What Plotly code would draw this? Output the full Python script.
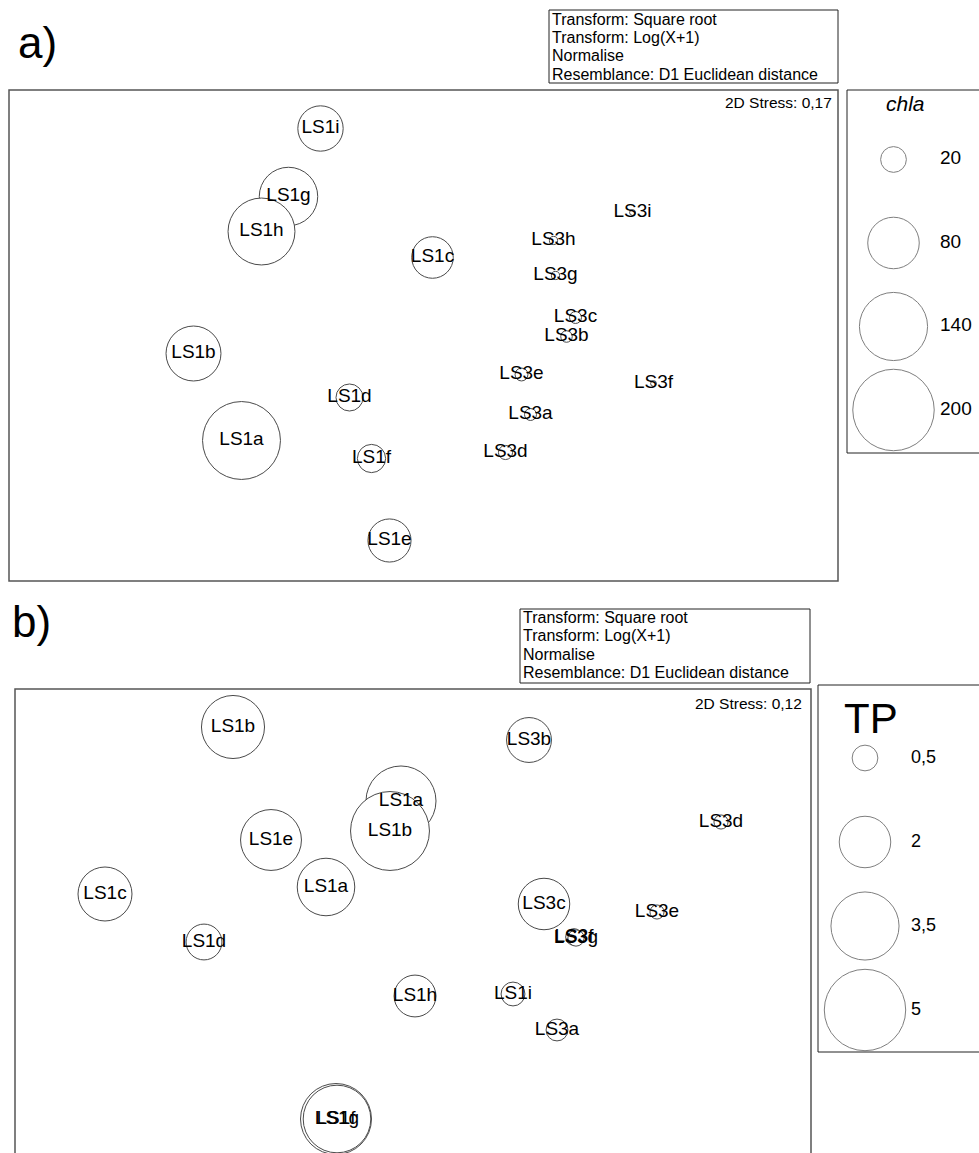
import plotly.graph_objects as go

W, H = 979, 1153
FONT = "Liberation Sans, Arial, Helvetica, sans-serif"
RING = "#4a4a4a"

# ---- panel a: nMDS ordination of sites, bubbles scaled by chla ----
a_names = ["LS1a", "LS1b", "LS1c", "LS1d", "LS1e", "LS1f", "LS1g", "LS1h", "LS1i",
           "LS3a", "LS3b", "LS3c", "LS3d", "LS3e", "LS3f", "LS3g", "LS3h", "LS3i"]
a_x = [-1.82, -2.30, 0.09, -0.74, -0.34, -0.52, -1.35, -1.62, -1.03,
       1.07, 1.43, 1.52, 0.82, 0.98, 2.30, 1.32, 1.30, 2.09]
a_y = [-1.05, -0.18, 0.78, -0.62, -2.05, -1.23, 1.39, 1.04, 2.07,
       -0.79, -0.01, 0.18, -1.17, -0.39, -0.48, 0.60, 0.95, 1.23]
a_chla = [183, 91, 52, 22, 56, 24, 103, 135, 62,
          4.3, 4.0, 4.3, 6.0, 5.0, 1.0, 2.0, 2.0, 1.0]
a_stress = "2D Stress: 0,17"

# ---- panel b: nMDS ordination of sites, bubbles scaled by TP ----
b_names = ["LS1b", "LS1a", "LS1b", "LS1e", "LS1a", "LS1c", "LS1d", "LS1h", "LS1i",
           "LS1f", "LS1g", "LS3b", "LS3d", "LS3c", "LS3e", "LS3f", "LS3g", "LS3a"]
b_x = [-1.80, -0.12, -0.23, -1.42, -0.87, -3.08, -2.09, 0.02, 1.00,
       -0.77, -0.76, 1.16, 3.08, 1.31, 2.44, 1.61, 1.63, 1.44]
b_y = [1.94, 1.20, 0.90, 0.81, 0.34, 0.27, -0.21, -0.75, -0.73,
       -1.98, -1.98, 1.81, 0.99, 0.17, 0.09, -0.16, -0.17, -1.09]
b_tp = [3.0, 3.7, 4.7, 2.8, 2.5, 2.2, 0.97, 1.32, 0.43,
        3.8, 3.45, 1.52, 0.15, 2.0, 0.15, 0.21, 0.2, 0.36]
b_stress = "2D Stress: 0,12"

# bubble key values
chla_key = [20, 80, 140, 200]
chla_key_labels = ["20", "80", "140", "200"]
tp_key = [0.5, 2, 3.5, 5]
tp_key_labels = ["0,5", "2", "3,5", "5"]

info_lines = ["Transform: Square root", "Transform: Log(X+1)",
              "Normalise", "Resemblance: D1 Euclidean distance"]

# bubble diameter (px) per sqrt(unit): area proportional to value
K_CHLA = 5.76
K_TP = 36.4


def px(x):
    return x / W


def py(y):
    return 1 - y / H


def diam(values, k):
    return [k * v ** 0.5 for v in values]


fig = go.Figure()

# panel a
fig.add_trace(go.Scatter(
    x=a_x, y=a_y, mode="markers", xaxis="x", yaxis="y", hoverinfo="skip",
    marker=dict(size=diam(a_chla, K_CHLA), sizemode="diameter", color="white",
                line=dict(color=RING, width=1), opacity=1)))
fig.add_trace(go.Scatter(
    x=a_x, y=a_y, mode="text", text=a_names, textposition="middle center",
    xaxis="x", yaxis="y", hoverinfo="skip",
    textfont=dict(family=FONT, size=19, color="black")))

# panel b
fig.add_trace(go.Scatter(
    x=b_x, y=b_y, mode="markers", xaxis="x2", yaxis="y2", hoverinfo="skip",
    marker=dict(size=diam(b_tp, K_TP), sizemode="diameter", color="white",
                line=dict(color=RING, width=1), opacity=1)))
fig.add_trace(go.Scatter(
    x=b_x, y=b_y, mode="text", text=b_names, textposition="middle center",
    xaxis="x2", yaxis="y2", hoverinfo="skip",
    textfont=dict(family=FONT, size=19, color="black")))

# bubble keys
idx_a = list(range(len(chla_key)))
fig.add_trace(go.Scatter(
    x=[46.5] * len(chla_key), y=idx_a, mode="markers", xaxis="x3", yaxis="y3",
    hoverinfo="skip",
    marker=dict(size=diam(chla_key, K_CHLA), sizemode="diameter", color="white",
                line=dict(color=RING, width=1))))
fig.add_trace(go.Scatter(
    x=[93] * len(chla_key), y=idx_a, mode="text", text=chla_key_labels,
    textposition="middle right", xaxis="x3", yaxis="y3", hoverinfo="skip",
    textfont=dict(family=FONT, size=19, color="black")))

idx_b = list(range(len(tp_key)))
fig.add_trace(go.Scatter(
    x=[47] * len(tp_key), y=idx_b, mode="markers", xaxis="x4", yaxis="y4",
    hoverinfo="skip",
    marker=dict(size=diam(tp_key, K_TP), sizemode="diameter", color="white",
                line=dict(color=RING, width=1))))
fig.add_trace(go.Scatter(
    x=[93] * len(tp_key), y=idx_b, mode="text", text=tp_key_labels,
    textposition="middle right", xaxis="x4", yaxis="y4", hoverinfo="skip",
    textfont=dict(family=FONT, size=18, color="black")))

hidden = dict(visible=False, showgrid=False, zeroline=False)

fig.update_layout(
    width=W, height=H, margin=dict(l=0, r=0, t=0, b=0),
    paper_bgcolor="white", plot_bgcolor="rgba(0,0,0,0)", showlegend=False,
    xaxis=dict(domain=[px(9), px(838)], range=[-4.145, 4.145], **hidden),
    yaxis=dict(domain=[py(581), py(90)], range=[-2.455, 2.455], **hidden),
    xaxis2=dict(domain=[px(15), px(811)], range=[-3.98, 3.98], **hidden),
    yaxis2=dict(domain=[0, py(689)], range=[-2.32, 2.32], **hidden),
    xaxis3=dict(domain=[px(847), 1], range=[0, 132], **hidden),
    yaxis3=dict(domain=[py(453), py(90)], range=[3.515, -0.832], **hidden),
    xaxis4=dict(domain=[px(818), 1], range=[0, 161], **hidden),
    yaxis4=dict(domain=[py(1052), py(685)], range=[3.5, -0.869], **hidden),
)

shapes = []
frame = dict(color="#555555", width=1.5)
thin = dict(color="#222222", width=1)
# ordination frames and bubble-key boxes
shapes.append(dict(type="rect", xref="paper", yref="paper", x0=px(9), x1=px(838),
                   y0=py(581), y1=py(90), line=frame, layer="below"))
shapes.append(dict(type="rect", xref="paper", yref="paper", x0=px(15), x1=px(811),
                   y0=py(1170), y1=py(689), line=frame, layer="below"))
shapes.append(dict(type="rect", xref="paper", yref="paper", x0=px(847), x1=px(1000),
                   y0=py(453), y1=py(90), line=thin, layer="below"))
shapes.append(dict(type="rect", xref="paper", yref="paper", x0=px(818), x1=px(1000),
                   y0=py(1052), y1=py(685), line=thin, layer="below"))
# resemblance info boxes
shapes.append(dict(type="rect", xref="paper", yref="paper", x0=px(549), x1=px(838),
                   y0=py(83), y1=py(10), line=thin))
shapes.append(dict(type="rect", xref="paper", yref="paper", x0=px(520), x1=px(810),
                   y0=py(683), y1=py(609), line=thin))

ann = []


def note(x, y, text, size, xanchor="left", color="black"):
    ann.append(dict(x=px(x), y=py(y), xref="paper", yref="paper", text=text,
                    showarrow=False, xanchor=xanchor, yanchor="middle",
                    font=dict(family=FONT, size=size, color=color)))


for i, line in enumerate(info_lines):
    note(550, 19.3 + i * 18.3, line, 16)
    note(521, 617.3 + i * 18.4, line, 16)

note(834, 102, a_stress, 15.5, xanchor="right")
note(804, 703, b_stress, 15.5, xanchor="right")

note(37, 42, "a)", 44, xanchor="center")
note(31, 621, "b)", 44, xanchor="center")

note(905, 103, "<i>chla</i>", 21, xanchor="center")
note(871, 718, "TP", 42, xanchor="center")

fig.update_layout(shapes=shapes, annotations=ann)

fig.write_html("out.html")
